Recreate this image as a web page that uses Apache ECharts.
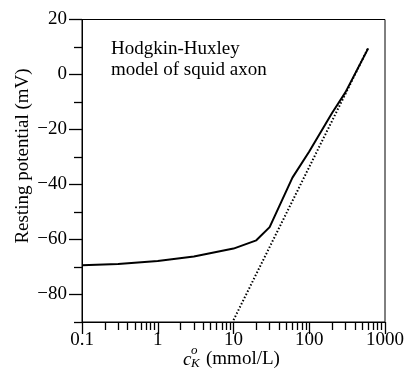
<!DOCTYPE html>
<html>
<head>
<meta charset="utf-8">
<script src="https://cdn.jsdelivr.net/npm/echarts@6/dist/echarts.min.js"></script>
<style>
html,body{margin:0;padding:0;background:#fff}
#main{width:414px;height:377px}
</style>
</head>
<body>
<div id="main"></div>
<script>
// external K concentration (mmol/L) and resting potential (mV)
var concHH = [0.1, 0.3, 1, 3, 10, 20, 30, 60, 100, 200, 300, 600];
var vrestHH = [-69.4, -68.9, -67.8, -66.2, -63.3, -60.3, -55.5, -37.5, -28, -14, -6.5, 9.5];
// Nernst potential (dotted line)
var concNernst = [10, 600];
var vNernst = [-89.3, 9.7];

var xMajor = [0.1, 1, 10, 100, 1000];
var xMinor = [0.2,0.3,0.4,0.5,0.6,0.7,0.8,0.9, 2,3,4,5,6,7,8,9, 20,30,40,50,60,70,80,90, 200,300,400,500,600,700,800,900];
var yMajor = [-80, -60, -40, -20, 0, 20];
var yMinor = [-90, -70, -50, -30, -10, 10];

var FONT = '"Liberation Serif", "DejaVu Serif", serif';

function pairs(xs, ys) {
    var out = [];
    for (var i = 0; i < xs.length; i++) {
        out.push([xs[i], ys[i]]);
    }
    return out;
}

var myChart = echarts.init(document.getElementById('main'));
var option = {
    animation: false,
    backgroundColor: '#fff',
    grid: {
        left: 82, right: 29, top: 19.5, bottom: 55,
        show: true, borderColor: '#000', borderWidth: 1
    },
    xAxis: [{
        type: 'log', logBase: 10, min: 0.1, max: 1000,
        position: 'bottom',
        axisLine: {onZero: false, lineStyle: {color: '#000', width: 1}},
        axisTick: {show: true, customValues: xMajor, length: 12, lineStyle: {color: '#000', width: 1.3}},
        axisLabel: {
            customValues: xMajor,
            color: '#000', fontFamily: FONT, fontSize: 19, margin: 9,
            formatter: function (v) { return String(+Number(v).toPrecision(3)); }
        },
        splitLine: {show: false}
    }, {
        type: 'log', logBase: 10, min: 0.1, max: 1000,
        position: 'bottom',
        axisLine: {show: false, onZero: false},
        axisTick: {show: true, customValues: xMinor, length: 8, lineStyle: {color: '#000', width: 1.3}},
        axisLabel: {show: false},
        splitLine: {show: false}
    }],
    yAxis: [{
        type: 'value', min: -90, max: 20,
        position: 'left',
        axisLine: {show: true, onZero: false, lineStyle: {color: '#000', width: 1}},
        axisTick: {show: true, customValues: yMajor, length: 13, lineStyle: {color: '#000', width: 1.3}},
        axisLabel: {
            customValues: yMajor,
            color: '#000', fontFamily: FONT, fontSize: 19, margin: 15,
            formatter: function (v) { return String(v).replace('-', '\u2212'); }
        },
        splitLine: {show: false}
    }, {
        type: 'value', min: -90, max: 20,
        position: 'left',
        axisLine: {show: false, onZero: false},
        axisTick: {show: true, customValues: yMinor, length: 8, lineStyle: {color: '#000', width: 1.3}},
        axisLabel: {show: false},
        splitLine: {show: false}
    }],
    graphic: [
        {type: 'text', left: 111, top: 40, style: {text: 'Hodgkin-Huxley', font: '19px ' + FONT, fill: '#000'}},
        {type: 'text', left: 111, top: 61, style: {text: 'model of squid axon', font: '19px ' + FONT, fill: '#000'}},
        {type: 'text', x: 23, y: 156, rotation: Math.PI / 2,
            style: {text: 'Resting potential (mV)', font: '19px ' + FONT, fill: '#000',
                align: 'center', verticalAlign: 'middle'}},
        {type: 'text', x: 183, y: 360, style: {text: 'c', font: 'italic 19px ' + FONT, fill: '#000', align: 'left', verticalAlign: 'middle'}},
        {type: 'text', x: 191, y: 351, style: {text: 'o', font: 'italic 13px ' + FONT, fill: '#000', align: 'left', verticalAlign: 'middle'}},
        {type: 'text', x: 191, y: 364, style: {text: 'K', font: 'italic 13px ' + FONT, fill: '#000', align: 'left', verticalAlign: 'middle'}},
        {type: 'text', x: 206, y: 359, style: {text: '(mmol/L)', font: '19px ' + FONT, fill: '#000', align: 'left', verticalAlign: 'middle'}}
    ],
    series: [{
        type: 'line',
        xAxisIndex: 0, yAxisIndex: 0,
        data: pairs(concHH, vrestHH),
        showSymbol: false,
        lineStyle: {color: '#000', width: 2}
    }, {
        type: 'line',
        xAxisIndex: 0, yAxisIndex: 0,
        data: pairs(concNernst, vNernst),
        showSymbol: false,
        lineStyle: {color: '#000', width: 2, type: [1.5, 2]}
    }]
};
myChart.setOption(option);
</script>
</body>
</html>
